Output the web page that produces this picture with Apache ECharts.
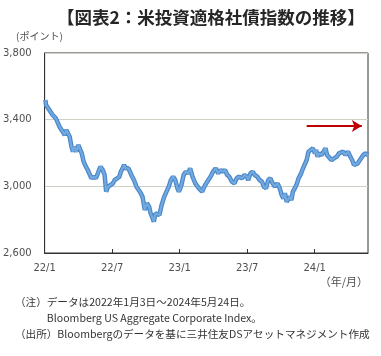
<!DOCTYPE html>
<html>
<head>
<meta charset="utf-8">
<script src="https://cdn.jsdelivr.net/npm/echarts@6/dist/echarts.min.js"></script>
<style>
html,body{margin:0;padding:0;background:#fff;}
#chart{width:381px;height:356px;}
</style>
</head>
<body>
<div id="chart"></div>
<script>
// ---- data ----
const titleText = '【図表2：米投資適格社債指数の推移】';
const yAxisName = '(ポイント)';
const xAxisName = '（年/月）';
const yTicks = [2600, 3000, 3400, 3800];
const xStart = '2022-01-01';
const xEnd = '2024-05-24';
const xTickStepMonths = 6;
const dates = [
'2022-01-03','2022-01-05','2022-01-14','2022-01-23','2022-02-01','2022-02-05','2022-02-10','2022-02-18','2022-02-23','2022-02-27',
'2022-03-04','2022-03-08','2022-03-13','2022-03-17','2022-03-21','2022-03-26','2022-04-01','2022-04-06','2022-04-10','2022-04-15',
'2022-04-21','2022-04-26','2022-04-30','2022-05-06','2022-05-12','2022-05-18','2022-05-22','2022-05-27','2022-05-31','2022-06-06',
'2022-06-11','2022-06-15','2022-06-20','2022-06-27','2022-07-03','2022-07-08','2022-07-15','2022-07-21','2022-07-25','2022-07-30',
'2022-08-03','2022-08-07','2022-08-15','2022-08-23','2022-08-30','2022-09-06','2022-09-15','2022-09-22','2022-09-28','2022-10-04',
'2022-10-10','2022-10-14','2022-10-18','2022-10-23','2022-10-27','2022-11-01','2022-11-07','2022-11-13','2022-11-20','2022-11-26',
'2022-12-02','2022-12-08','2022-12-14','2022-12-20','2022-12-26','2022-12-30','2023-01-06','2023-01-12','2023-01-18','2023-01-24',
'2023-01-30','2023-02-05','2023-02-12','2023-02-21','2023-03-01','2023-03-07','2023-03-15','2023-03-24','2023-03-31','2023-04-07',
'2023-04-14','2023-04-20','2023-04-26','2023-05-02','2023-05-08','2023-05-14','2023-05-21','2023-05-28','2023-06-03','2023-06-09',
'2023-06-17','2023-06-24','2023-06-30','2023-07-04','2023-07-10','2023-07-16','2023-07-22','2023-07-29','2023-08-04','2023-08-11',
'2023-08-16','2023-08-22','2023-08-28','2023-09-03','2023-09-09','2023-09-15','2023-09-22','2023-09-28','2023-10-03','2023-10-08',
'2023-10-12','2023-10-17','2023-10-21','2023-10-26','2023-10-30','2023-11-03','2023-11-08','2023-11-14','2023-11-18','2023-11-25',
'2023-11-30','2023-12-06','2023-12-10','2023-12-15','2023-12-21','2023-12-27','2024-01-02','2024-01-05','2024-01-09','2024-01-13',
'2024-01-20','2024-01-24','2024-01-31','2024-02-04','2024-02-09','2024-02-15','2024-02-22','2024-02-29','2024-03-06','2024-03-11',
'2024-03-17','2024-03-24','2024-03-31','2024-04-06','2024-04-11','2024-04-16','2024-04-20','2024-04-26','2024-05-01','2024-05-05',
'2024-05-11','2024-05-17','2024-05-24'
];
const values = [
3518,3488,3458,3428,3408,3400,3358,3328,3308,3338,
3348,3298,3238,3208,3238,3208,3248,3238,3198,3148,
3118,3098,3088,3048,3058,3048,3068,3098,3118,3098,
3068,2968,2998,3008,3018,3038,3048,3058,3088,3108,
3128,3108,3108,3068,3038,2998,2968,2938,2858,2898,
2878,2838,2818,2788,2838,2848,2828,2888,2938,2968,
2998,3038,3058,3038,2988,2968,3008,3068,3088,3078,
3108,3058,3018,2988,2968,2998,3028,3058,3088,3108,
3078,3098,3088,3098,3068,3058,3028,3018,3048,3058,
3048,3068,3058,3038,3078,3088,3068,3058,3038,3028,
2998,2988,3038,3048,3018,2998,3018,2988,2948,2928,
2958,2908,2898,2938,2918,2968,2988,3018,3048,3078,
3108,3138,3158,3208,3218,3228,3198,3218,3178,3198,
3188,3178,3228,3188,3188,3158,3168,3178,3198,3188,
3208,3188,3208,3178,3158,3128,3118,3138,3128,3168,
3188,3198,3188
];
const arrowFrom = ['2023-12-10', 3362];
const arrowTo = ['2024-05-07', 3362];
const noteLines = [
  '（注）データは2022年1月3日～2024年5月24日。',
  '　　　Bloomberg US Aggregate Corporate Index。',
  '（出所）Bloombergのデータを基に三井住友DSアセットマネジメント作成'
];

// ---- helpers: date -> months since start (fractional) ----
const y0 = Number(xStart.slice(0,4));
function mpos(s){
  const p = s.split('-').map(Number);
  const dim = new Date(p[0], p[1], 0).getDate();
  return (p[0]-y0)*12 + (p[1]-1) + (p[2]-1)/dim;
}
const seriesData = dates.map((d,i)=>[mpos(d), values[i]]);

const FONT = '"Noto Sans CJK JP", "Noto Sans", sans-serif';
const NUMFONT = '"DejaVu Sans", sans-serif';
const chart = echarts.init(document.getElementById('chart'), null, {renderer:'canvas'});
chart.setOption({
  animation:false,
  backgroundColor:'#fff',
  textStyle:{fontFamily:FONT},
  title:{
    text:titleText, left:52, top:4,
    textStyle:{fontSize:17.5, fontWeight:'bold', color:'#262626', fontFamily:FONT}
  },
  grid:{left:40, right:13, top:53, bottom:103, show:true, borderColor:'#333', borderWidth:1, backgroundColor:'transparent'},
  xAxis:{
    type:'value', min:mpos(xStart), max:mpos(xEnd), interval:xTickStepMonths,
    axisLine:{show:true, lineStyle:{color:'#333'}},
    axisTick:{show:true, inside:true, length:4, lineStyle:{color:'#333'}},
    axisLabel:{
      margin:10, color:'#505050', fontSize:10, fontFamily:NUMFONT, showMaxLabel:false,
      formatter:function(v){
        if (Math.abs(v/xTickStepMonths - Math.round(v/xTickStepMonths))>1e-6) return '';
        const yy = (y0 + Math.floor(v/12))%100; const m = Math.round(v%12)+1;
        return yy+'/'+m;
      }
    },
    splitLine:{show:false}
  },
  yAxis:{
    type:'value', min:yTicks[0], max:yTicks[yTicks.length-1], interval:yTicks[1]-yTicks[0],
    axisLine:{show:true, lineStyle:{color:'#333'}},
    axisTick:{show:false},
    axisLabel:{margin:13, color:'#505050', fontSize:10, fontFamily:NUMFONT,
      formatter:function(v){ return v.toLocaleString('en-US'); }},
    splitLine:{show:true, lineStyle:{color:'#c9d2c4', width:1}}
  },
  graphic:[
    {type:'text', left:16, top:31, style:{text:yAxisName, fill:'#505050', font:'10px '+FONT}},
    {type:'text', right:13, top:276, style:{text:xAxisName, fill:'#505050', font:'11px '+FONT}},
    {type:'text', left:15, top:297, style:{text:noteLines[0], fill:'#333', font:'10.6px '+FONT}},
    {type:'text', left:15, top:313, style:{text:noteLines[1], fill:'#333', font:'10.6px '+FONT}},
    {type:'text', left:15, top:329, style:{text:noteLines[2], fill:'#333', font:'10.6px '+FONT}}
  ],
  series:[{
    type:'line', data:seriesData, showSymbol:false, symbol:'none', silent:true,
    lineStyle:{color:'#4a86c8', width:4.5}
  },{
    type:'line', data:seriesData, showSymbol:false, symbol:'none',
    lineStyle:{color:'#72aae0', width:2.2},
    markLine:{
      silent:true, animation:false,
      label:{show:false},
      symbol:['none','arrow'], symbolSize:[9,10],
      lineStyle:{color:'#c00000', width:2, type:'solid'},
      data:[[{coord:[mpos(arrowFrom[0]), arrowFrom[1]]},{coord:[mpos(arrowTo[0]), arrowTo[1]]}]]
    }
  }]
});
</script>
</body>
</html>
